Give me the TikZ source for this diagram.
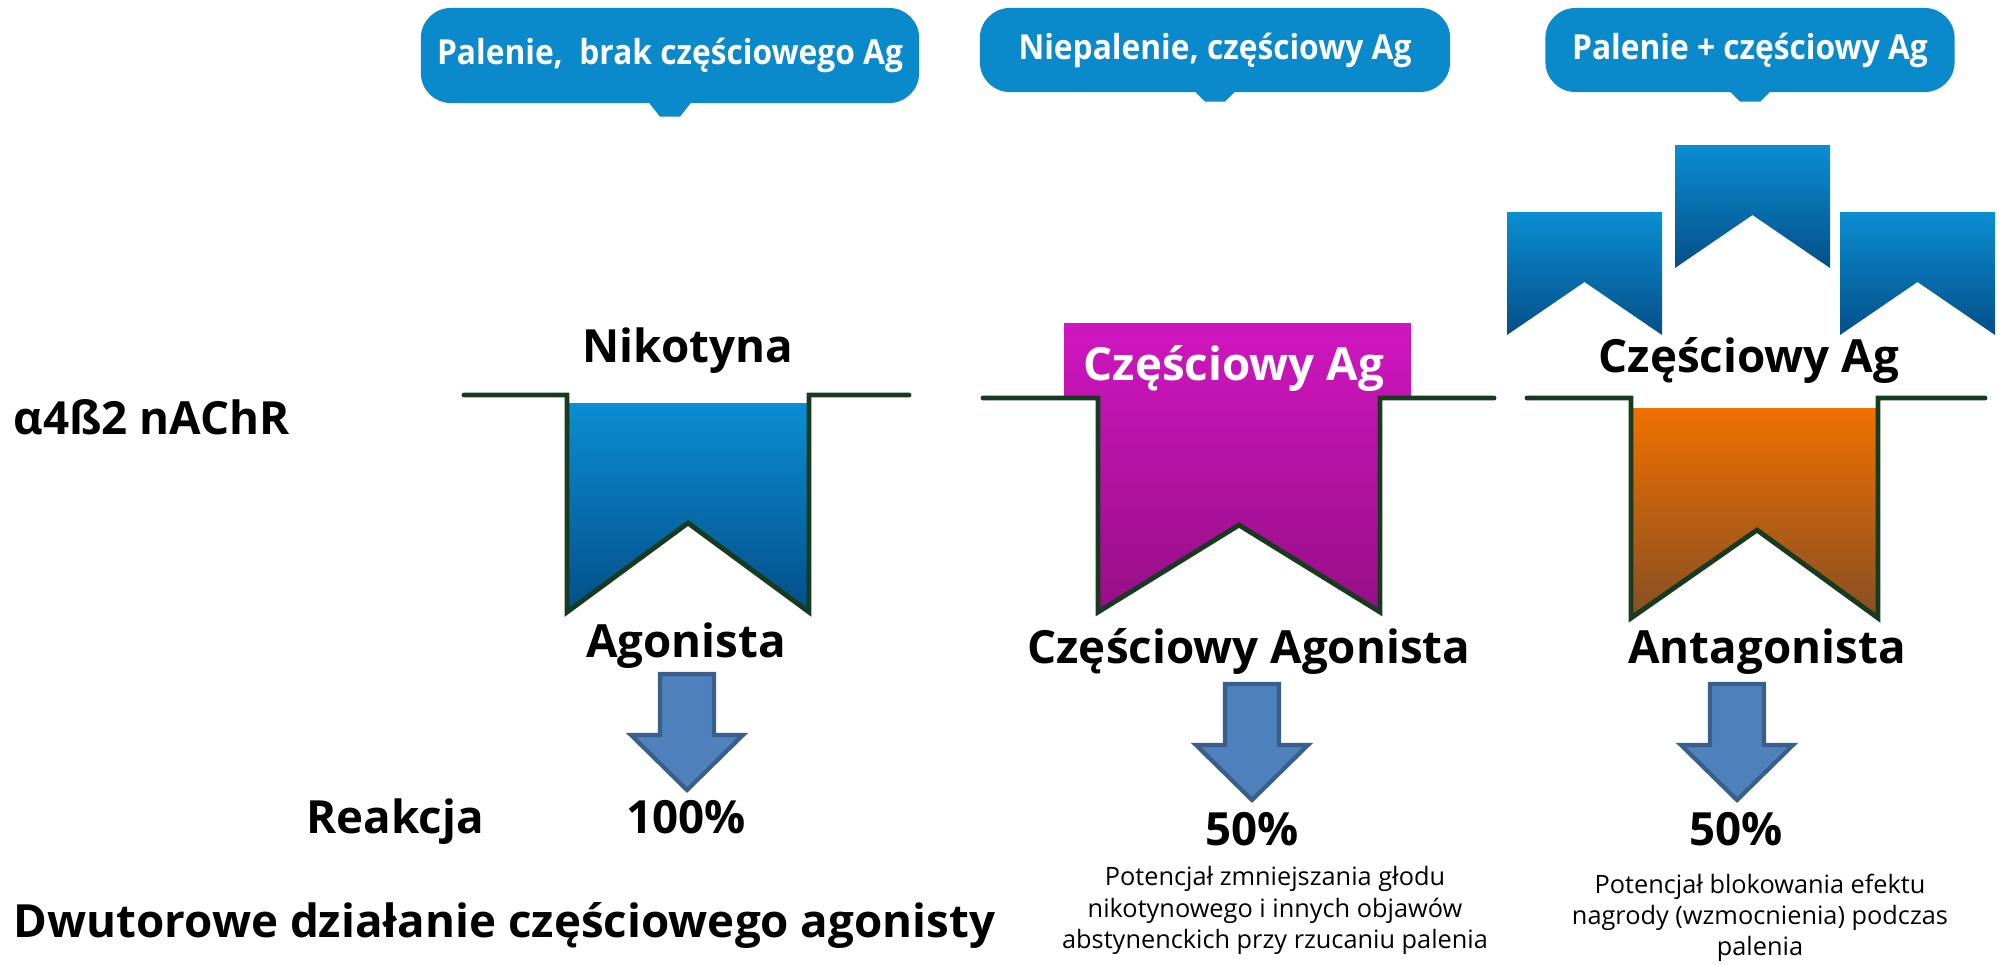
\documentclass[tikz,border=0pt]{standalone}
\usepackage{fontspec}
\setmainfont{Open Sans}
\newfontfamily\callfont{Open Sans}[FakeStretch=0.92]
\usetikzlibrary{calc}

\definecolor{callbg}{HTML}{0A89CB}
\definecolor{bluetop}{HTML}{0B8ED3}
\definecolor{bluebot}{HTML}{044F88}
\definecolor{magtop}{HTML}{D016C0}
\definecolor{magbot}{HTML}{970F87}
\definecolor{orgtop}{HTML}{F07000}
\definecolor{orgbot}{HTML}{874F24}
\definecolor{membr}{HTML}{173B1F}
\definecolor{arrfill}{HTML}{4F81BD}
\definecolor{arrline}{HTML}{3A5F8B}

\begin{document}
\begin{tikzpicture}[x=0.01cm, y=-0.01cm,
  lbl/.style={font=\bfseries\fontsize{13}{15}\selectfont, inner sep=0, anchor=base},
  desc/.style={font=\fontsize{7.2}{8.9}\selectfont, inner sep=0, anchor=north, align=center},
  callout/.style={fill=callbg, rounded corners=0.3cm, text=white, inner sep=0,
    font=\callfont\bfseries\fontsize{9.8}{11}\selectfont},
  wall/.style={draw=membr, line width=1.4pt, line cap=round},
  blockarr/.style={fill=arrfill, draw=arrline, line width=1.2pt}]
\useasboundingbox (0,0) rectangle (2002,963);

% top callouts
\node[callout, minimum width=4.98cm, minimum height=0.95cm] (c1) at (670,55.5) {Palenie, \ brak częściowego Ag};
\node[callout, minimum width=4.70cm, minimum height=0.84cm] (c2) at (1215,50) {Niepalenie, częściowy Ag};
\node[callout, minimum width=4.09cm, minimum height=0.84cm] (c3) at (1750,50) {Palenie + częściowy Ag};
\fill[callbg] ($(c1.south)+(-21,-1)$) -- ($(c1.south)+(21,-1)$) -- ($(c1.south)+(10,13)$) -- ($(c1.south)+(-10,13)$) -- cycle;
\foreach \c in {c2,c3}
  \fill[callbg] ($(\c.south)+(-20,-1)$) -- ($(\c.south)+(20,-1)$) -- ($(\c.south)+(10,9)$) -- ($(\c.south)+(-10,9)$) -- cycle;

% receptor 1, nikotyna
\shade[top color=bluetop, bottom color=bluebot] (567,403) -- (567,612) -- (688,523) -- (809,612) -- (809,403) -- cycle;
\draw[wall] (464,395) -- (567,395) -- (567,612) -- (688,523) -- (809,612) -- (809,395) -- (909,395);

% receptor 2, czesciowy agonista
\shade[top color=magtop, bottom color=magbot] (1064,323) -- (1411,323) -- (1411,398) -- (1380,398) -- (1380,612)
  -- (1239,525) -- (1098,612) -- (1098,398) -- (1064,398) -- cycle;
\draw[wall] (983,398) -- (1098,398) -- (1098,612) -- (1239,525) -- (1380,612) -- (1380,398) -- (1494,398);

% receptor 3, antagonista
\foreach \x/\y in {1507/212, 1675/145, 1840/212}
  \shade[top color=bluetop, bottom color=bluebot] (\x,\y) -- (\x+155,\y) -- (\x+155,\y+123) -- (\x+77.5,\y+70) -- (\x,\y+123) -- cycle;
\shade[top color=orgtop, bottom color=orgbot] (1631,408) -- (1631,618) -- (1757,530) -- (1878,618) -- (1878,408) -- cycle;
\draw[wall] (1527,398) -- (1631,398) -- (1631,618) -- (1757,530) -- (1878,618) -- (1878,398) -- (1985,398);

% labels
\node[lbl, anchor=base west] (rec) at (13,434) {α4ß2 nAChR};
\node[lbl] (nik) at (688,362) {Nikotyna};
\node[lbl, text=white] (cag1) at (1234,380) {Częściowy Ag};
\node[lbl] (cag2) at (1749,372) {Częściowy Ag};
\node[lbl] (ago) at (686,657) {Agonista};
\node[lbl] (pago) at (1249,663) {Częściowy Agonista};
\node[lbl] (ant) at (1767,663) {Antagonista};

% block arrows
\foreach \x/\y in {687/674, 1252/684, 1737/684}
  \draw[blockarr] (\x-27,\y) -- (\x+27,\y) -- (\x+27,\y+61) -- (\x+56,\y+61) -- (\x,\y+116)
    -- (\x-56,\y+61) -- (\x-27,\y+61) -- cycle;

\node[lbl, anchor=base west] (reak) at (306,833) {Reakcja};
\node[lbl] (p1) at (686,833) {100\%};
\node[lbl] (p2) at (1252,845) {50\%};
\node[lbl] (p3) at (1736,845) {50\%};

\node[desc] (d1) at (1275,866) {Potencjał zmniejszania głodu\\nikotynowego i innych objawów\\abstynenckich przy rzucaniu palenia};
\node[desc] (d2) at (1760,873) {Potencjał blokowania efektu\\nagrody (wzmocnienia) podczas\\palenia};

\node[lbl, anchor=base west] (tit) at (13,937) {Dwutorowe działanie częściowego agonisty};
\end{tikzpicture}
\end{document}
